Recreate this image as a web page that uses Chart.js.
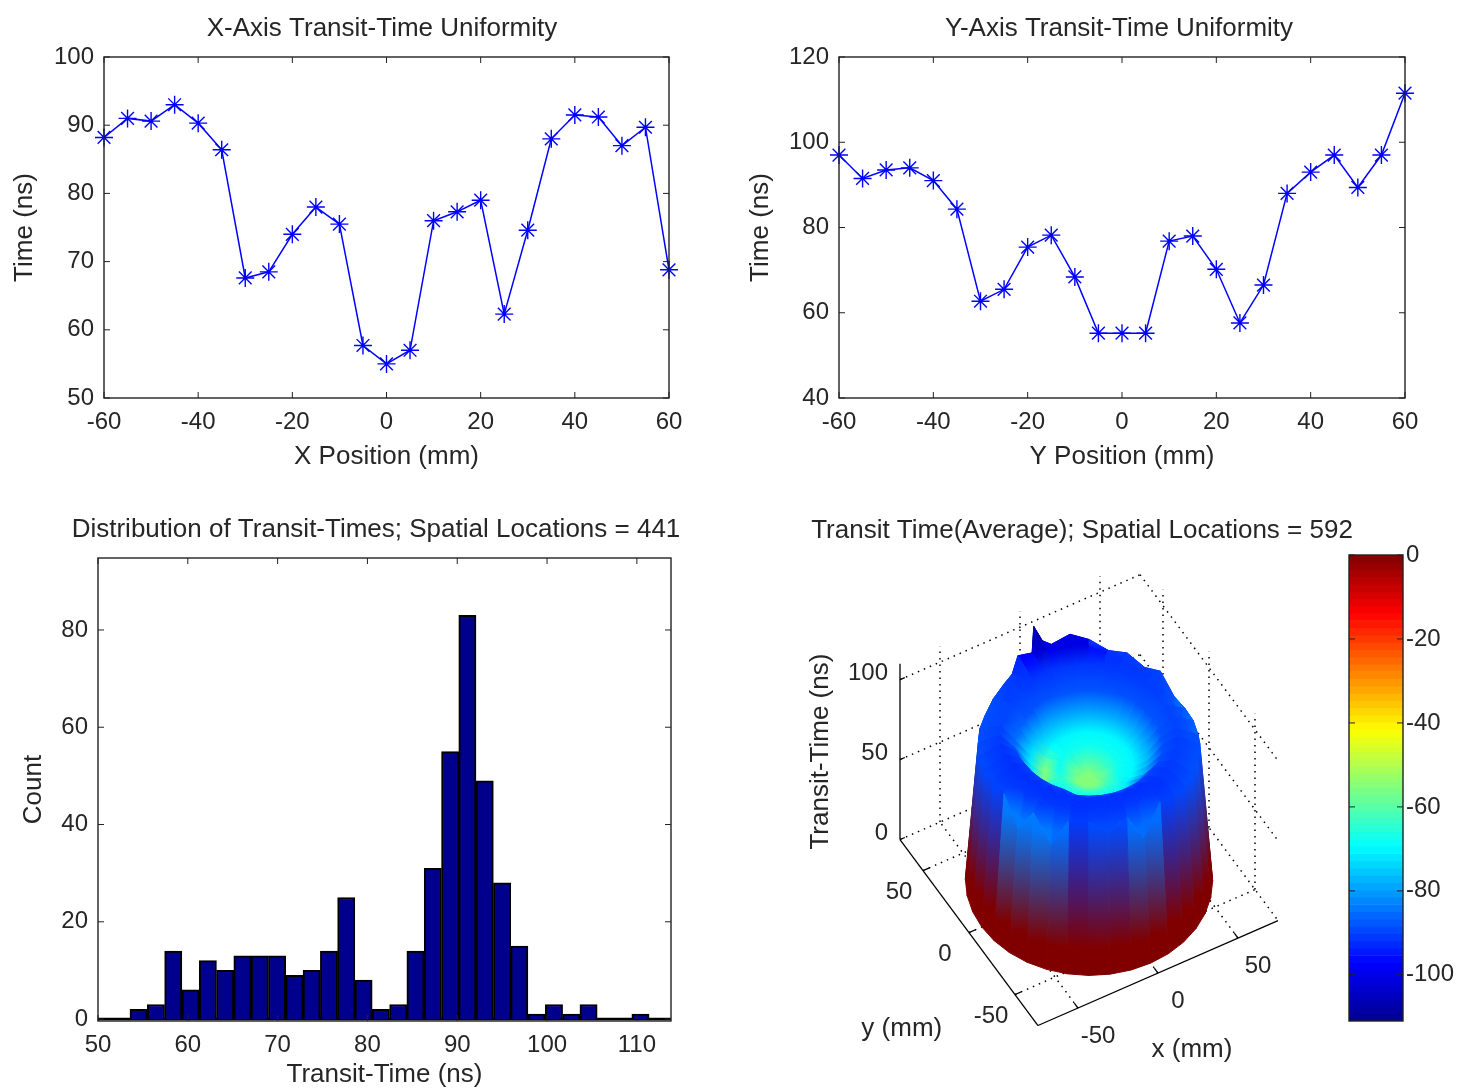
<!DOCTYPE html>
<html>
<head>
<meta charset="utf-8">
<title>Transit-Time Uniformity</title>
<script src="https://cdn.jsdelivr.net/npm/chart.js@4/dist/chart.umd.min.js"></script>
<style>
    html, body { margin: 0; background: #fff; overflow: hidden; width: 1457px; height: 1090px; }
    .panel { position: absolute; }
</style>
</head>
<body>
<div class="panel" style="left:0;top:0;width:764px;height:490px"><canvas id="xChart"></canvas></div>
<div class="panel" style="left:720px;top:0;width:798px;height:490px"><canvas id="yChart"></canvas></div>
<div class="panel" style="left:0;top:500px;width:752px;height:590px"><canvas id="histChart"></canvas></div>
<div class="panel" style="left:800px;top:500px;width:564px;height:590px"><canvas id="surfaceChart"></canvas></div>
<div class="panel" style="left:1320px;top:530px;width:137px;height:510px"><canvas id="barChart"></canvas></div>
<script>
// Valeurs
const positions = [-60, -55, -50, -45, -40, -35, -30, -25, -20, -15, -10, -5, 0, 5, 10, 15, 20, 25, 30, 35, 40, 45, 50, 55, 60];
const xTimes = [88.2, 91, 90.6, 93, 90.3, 86.4, 67.6, 68.5, 74, 78, 75.5, 57.7, 55, 57, 76, 77.3, 79, 62.3, 74.6, 88, 91.5, 91.2, 87, 89.7, 68.8];
const yTimes = [97, 91.5, 93.5, 94, 91, 84.3, 62.7, 65.5, 75.4, 78.2, 68.4, 55.2, 55.2, 55.2, 76.8, 78, 70.2, 57.6, 66.5, 88, 93, 97, 89.4, 97, 111.5];

const binCenters = [54.52, 56.45, 58.38, 60.3, 62.23, 64.16, 66.08, 68.01, 69.94, 71.86, 73.79, 75.72, 77.64, 79.57, 81.5, 83.43, 85.35, 87.28, 89.21, 91.13, 93.06, 94.99, 96.91, 98.84, 100.77, 102.7, 104.62, 106.55, 108.48, 110.4];
const binCounts = [2, 3, 14, 6, 12, 10, 13, 13, 13, 9, 10, 14, 25, 8, 2, 3, 14, 31, 55, 83, 49, 28, 15, 1, 3, 1, 3, 0, 0, 1];

// Surface: one row per spoke (degrees), one column per ring (mm), heights in ns
const spokeAngles = [0, 10, 20, 30, 40, 50, 60, 70, 80, 85, 90, 91, 100, 104, 110, 120, 130, 140, 150, 160, 170, 180, 190, 200, 210, 220, 230, 240, 250, 260, 270, 280, 290, 300, 310, 320, 330, 340, 350];
const ringRadii = [0, 8, 16, 24, 32, 40, 48, 54, 60, 67];
const surfaceHeights = [
    [66, 68, 70, 71, 76, 83, 88, 85, 81, 0],
    [66, 68, 70, 71, 76, 83, 88, 86, 81, 0],
    [66, 68, 70, 71, 76, 84, 91, 92, 90, 0],
    [66, 68, 70, 71, 76, 84, 90, 90, 87, 0],
    [66, 68, 70, 71, 76, 84, 92, 94, 92, 0],
    [66, 68, 70, 71, 76, 83, 92, 94, 91, 0],
    [66, 68, 70, 71, 76, 83, 92, 98, 97, 0],
    [66, 68, 70, 71, 76, 83, 92, 100, 101, 0],
    [66, 68, 70, 71, 76, 83, 92, 98, 97, 0],
    [66, 68, 70, 71, 76, 83, 93, 99, 101, 0],
    [66, 68, 70, 71, 76, 84, 94, 104, 112, 0],
    [66, 68, 70, 71, 76, 84, 92, 96, 96, 0],
    [66, 68, 70, 71, 75, 84, 92, 96, 99, 0],
    [66, 68, 70, 71, 75, 84, 91, 92, 90, 0],
    [66, 68, 70, 71, 75, 84, 90, 92, 88, 0],
    [66, 68, 70, 70, 74, 82, 88, 88, 86, 0],
    [66, 67, 70, 68, 73, 82, 87, 86, 84, 0],
    [66, 67, 70, 66, 72, 80, 88, 87, 85, 0],
    [66, 67, 70, 66, 72, 82, 90, 88, 85, 0],
    [66, 67, 70, 66, 72, 86, 92, 90, 86, 0],
    [66, 67, 69, 68, 73, 88, 93, 90, 87, 0],
    [66, 66, 69, 70, 74, 90, 94, 92, 88, 0],
    [66, 66, 69, 70, 76, 90, 94, 92, 88, 0],
    [66, 66, 69, 71, 78, 90, 94, 90, 72, 0],
    [66, 66, 69, 71, 78, 90, 94, 92, 88, 0],
    [66, 66, 69, 71, 78, 90, 94, 90, 72, 0],
    [66, 66, 69, 71, 78, 88, 94, 94, 90, 0],
    [66, 66, 69, 71, 78, 88, 94, 94, 90, 0],
    [66, 66, 69, 71, 78, 88, 94, 92, 82, 0],
    [66, 66, 69, 71, 78, 88, 94, 94, 90, 0],
    [66, 66, 69, 71, 78, 88, 94, 90, 72, 0],
    [66, 66, 69, 71, 78, 88, 94, 94, 90, 0],
    [66, 67, 69, 71, 78, 88, 92, 92, 88, 0],
    [66, 67, 69, 72, 78, 88, 92, 90, 86, 0],
    [66, 67, 70, 71, 76, 86, 90, 88, 85, 0],
    [66, 67, 70, 71, 76, 85, 90, 87, 84, 0],
    [66, 67, 70, 71, 75, 85, 90, 88, 86, 0],
    [66, 68, 70, 71, 75, 84, 88, 85, 82, 0],
    [66, 68, 70, 71, 76, 83, 88, 85, 82, 0]
];
// Height (ns) read against the colorbar value seen at that height
const heightSteps = [0, 66, 68, 70, 74, 83, 94, 100, 112];
const colorSteps = [0, -55, -62, -68, -76, -88, -92, -102, -111];

const surfaceTicks = [-50, 0, 50];
const heightTicks = [0, 50, 100];
const barLevels = 64;
const barTicks = [0, -20, -40, -60, -80, -100];

const fontFamily = '"Liberation Sans", Arial, sans-serif';
const fontSize = 24;
const labelSize = 26;
const textColor = '#262626';

// Colormap jet
const jetStops = [
    [0, [0, 0, 143]], [0.125, [0, 0, 255]], [0.375, [0, 255, 255]],
    [0.625, [255, 255, 0]], [0.875, [255, 0, 0]], [1, [128, 0, 0]]
];

const lerpTable = (value, xs, ys) => {
    for (let i = 1; i < xs.length; i++) {
        if (value <= xs[i]) {
            return ys[i - 1] + (ys[i] - ys[i - 1]) * (value - xs[i - 1]) / (xs[i] - xs[i - 1]);
        }
    }
    return ys[ys.length - 1];
};

const jet = (pos) => {
    const rgb = [0, 1, 2].map(c => Math.round(lerpTable(pos, jetStops.map(s => s[0]), jetStops.map(s => s[1][c]))));
    return `rgb(${rgb.join(',')})`;
};

const colorOfHeight = (z) => jet((lerpTable(z, heightSteps, colorSteps) + 111) / 111);

/**
 * Boite et graduations vers l'interieur, facon MATLAB
 */
const axisBox = {
    id: 'axisBox',
    afterDatasetsDraw(chart, args, opts) {
        const { ctx, chartArea: a, scales } = chart;
        const len = 6;
        ctx.save();
        ctx.strokeStyle = '#222';
        ctx.lineWidth = 1.4;
        ctx.strokeRect(a.left, a.top, a.width, a.height);
        ctx.lineWidth = 1;
        ctx.beginPath();
        if (opts.xTicks !== false) {
            scales.x.ticks.forEach(t => {
                const px = scales.x.getPixelForValue(t.value);
                ctx.moveTo(px, a.bottom); ctx.lineTo(px, a.bottom - len);
                ctx.moveTo(px, a.top); ctx.lineTo(px, a.top + len);
            });
        }
        scales.y.ticks.forEach(t => {
            const py = scales.y.getPixelForValue(t.value);
            ctx.moveTo(a.left, py); ctx.lineTo(a.left + len, py);
            ctx.moveTo(a.right, py); ctx.lineTo(a.right - len, py);
        });
        ctx.stroke();
        ctx.restore();
    }
};

const tickFont = { family: fontFamily, size: fontSize };
const labelFont = { family: fontFamily, size: labelSize, weight: 'normal' };

const axisTitle = (text, padding) => ({
    display: true, text, color: textColor, font: labelFont, padding
});

const chartTitle = (text, padding) => ({
    display: true, text, color: textColor, font: labelFont, padding
});

const linearAxis = (min, max, stepSize, extra) => ({
    type: 'linear',
    min, max,
    grid: { display: false, drawTicks: false },
    border: { display: false },
    ticks: { stepSize, color: textColor, font: tickFont, padding: 10, autoSkip: false, maxRotation: 0, includeBounds: false },
    ...extra
});

// Axe vide a droite: reserve la marge sans decaler le titre
const spacerAxis = (width) => ({
    type: 'linear',
    position: 'right',
    grid: { display: false, drawTicks: false },
    border: { display: false },
    ticks: { display: false },
    afterFit: s => { s.width = width; }
});

const baseOptions = {
    responsive: true,
    maintainAspectRatio: false,
    animation: false,
    events: []
};

/**
 * Courbe d'uniformite (axe X ou Y)
 */
const createUniformityChart = (canvasId, times, xLabel, yMin, yMax, yStep, title, geometry) => {
    return new Chart(document.getElementById(canvasId), {
        type: 'line',
        data: {
            datasets: [{
                data: positions.map((p, i) => ({ x: p, y: times[i] })),
                borderColor: '#0000ff',
                backgroundColor: '#0000ff',
                borderWidth: 1.5,
                tension: 0,
                pointStyle: 'star',
                pointRadius: 9,
                pointBorderColor: '#0000ff',
                pointBorderWidth: 1.4,
                clip: false
            }]
        },
        options: {
            ...baseOptions,
            layout: { autoPadding: false },
            scales: {
                x: linearAxis(-60, 60, 20, {
                    title: axisTitle(xLabel, { top: 0, bottom: 18 }),
                    afterFit: s => { s.height = 92; }
                }),
                y: linearAxis(yMin, yMax, yStep, {
                    title: axisTitle('Time (ns)', { top: geometry.titleLeft, bottom: 0 }),
                    afterFit: s => { s.width = geometry.left; }
                }),
                spacer: spacerAxis(geometry.right)
            },
            plugins: {
                legend: { display: false },
                tooltip: { enabled: false },
                title: chartTitle(title, { top: 13, bottom: 12.8 })
            }
        },
        plugins: [axisBox]
    });
};

/**
 * Histogramme des temps de transit
 */
const createHistChart = () => {
    return new Chart(document.getElementById('histChart'), {
        type: 'bar',
        data: {
            datasets: [{
                data: binCenters.map((c, i) => ({ x: c, y: binCounts[i] })),
                backgroundColor: '#00008c',
                borderColor: '#000',
                borderWidth: 2,
                barPercentage: 1,
                categoryPercentage: 1
            }, {
                type: 'line',
                data: [{ x: 50, y: 0 }, { x: 113.8, y: 0 }],
                borderColor: '#000',
                borderWidth: 2.5,
                pointRadius: 0
            }]
        },
        options: {
            ...baseOptions,
            layout: { autoPadding: false },
            scales: {
                x: linearAxis(50, 113.8, 10, {
                    offset: false,
                    title: axisTitle('Transit-Time (ns)', { top: 0, bottom: 0 }),
                    afterFit: s => { s.height = 69; }
                }),
                y: linearAxis(-0.4, 94.8, 20, {
                    title: axisTitle('Count', { top: 18, bottom: 0 }),
                    afterFit: s => { s.width = 98; }
                }),
                spacer: spacerAxis(81)
            },
            plugins: {
                legend: { display: false },
                tooltip: { enabled: false },
                title: chartTitle('Distribution of Transit-Times; Spatial Locations = 441', { top: 14, bottom: 12.8 })
            }
        },
        plugins: [axisBox]
    });
};

// Projection de la vue 3D vers les echelles du graphique
const project = (x, y, z) => ({
    x: 1089 + 1.6 * x - 0.92 * y,
    y: 880 - 0.7 * x - 1.24 * y - 1.6 * z
});

const spokePoint = (i, j) => {
    const angle = spokeAngles[i] * Math.PI / 180;
    const r = ringRadii[j];
    return { mx: r * Math.cos(angle), my: r * Math.sin(angle), z: surfaceHeights[i][j] };
};

const midPoint = (a, b) => ({ x: (a.x + b.x) / 2, y: (a.y + b.y) / 2 });

const surfaceCells = () => {
    const cells = [];
    spokeAngles.forEach((_, i) => {
        const next = (i + 1) % spokeAngles.length;
        for (let j = 0; j < ringRadii.length - 1; j++) {
            const corners = [spokePoint(i, j), spokePoint(next, j), spokePoint(next, j + 1), spokePoint(i, j + 1)];
            const depth = corners.reduce((sum, c) => sum + 0.49 * c.mx + 0.87 * c.my, 0) / 4;
            const pts = corners.map(c => project(c.mx, c.my, c.z));
            const innerColor = colorOfHeight((corners[0].z + corners[1].z) / 2);
            const outerHeight = (corners[2].z + corners[3].z) / 2;
            const outerColor = colorOfHeight(outerHeight);
            const paint = (context) => {
                const { scales, ctx } = context.chart;
                const from = midPoint(pts[0], pts[1]);
                const to = midPoint(pts[2], pts[3]);
                const ends = [
                    scales.x.getPixelForValue(from.x), scales.y.getPixelForValue(from.y),
                    scales.x.getPixelForValue(to.x), scales.y.getPixelForValue(to.y)
                ];
                // Les echelles ne sont pas encore pretes au premier passage
                if (!ends.every(Number.isFinite)) {
                    return innerColor;
                }
                const g = ctx.createLinearGradient(...ends);
                g.addColorStop(0, innerColor);
                // Le pied de la paroi reste rouge sombre sur une bande
                g.addColorStop(outerHeight === 0 ? 0.82 : 1, outerColor);
                return g;
            };
            cells.push({
                depth,
                dataset: {
                    data: [...pts, pts[0]],
                    showLine: true,
                    fill: 'shape',
                    tension: 0,
                    pointRadius: 0,
                    borderWidth: 1,
                    borderColor: paint,
                    backgroundColor: paint
                }
            });
        }
    });
    // Le premier dataset est dessine en dernier
    return cells.sort((a, b) => a.depth - b.depth).map(c => c.dataset);
};

const wireLine = (from, to, dotted = true) => ({
    data: [from, to],
    showLine: true,
    pointRadius: 0,
    borderColor: '#000',
    borderWidth: dotted ? 1.5 : 1.3,
    borderDash: dotted ? [1.5, 5] : []
});

const wireFrame = () => {
    const lines = [];
    surfaceTicks.forEach(t => {
        lines.push(wireLine(project(t, -75, 0), project(t, 75, 0)));
        lines.push(wireLine(project(-75, t, 0), project(75, t, 0)));
        lines.push(wireLine(project(t, 75, 0), project(t, 75, 110)));
        lines.push(wireLine(project(75, t, 0), project(75, t, 110)));
        lines.push(wireLine(project(t, -75, 0), project(t, -71, 0), false));
        lines.push(wireLine(project(-75, t, 0), project(-71, t, 0), false));
    });
    heightTicks.forEach(z => {
        lines.push(wireLine(project(-75, 75, z), project(75, 75, z)));
        lines.push(wireLine(project(75, 75, z), project(75, -75, z)));
        lines.push(wireLine(project(-75, 75, z), project(-72, 75, z), false));
    });
    lines.push(wireLine(project(-75, 75, 0), project(-75, 75, 110), false));
    lines.push(wireLine(project(-75, 75, 0), project(-75, -75, 0), false));
    lines.push(wireLine(project(-75, -75, 0), project(75, -75, 0), false));
    return lines;
};

/**
 * Libelles de la vue 3D, places avec la meme projection
 */
const surfaceLabels = {
    id: 'surfaceLabels',
    afterDatasetsDraw(chart) {
        const { ctx, scales } = chart;
        const put = (text, p, dx, dy, align = 'center', rotation = 0, size = fontSize) => {
            ctx.save();
            ctx.font = `${size}px ${fontFamily}`;
            ctx.translate(scales.x.getPixelForValue(p.x) + dx, scales.y.getPixelForValue(p.y) + dy);
            ctx.rotate(rotation);
            ctx.textAlign = align;
            ctx.textBaseline = 'middle';
            ctx.fillText(text, 0, 0);
            ctx.restore();
        };
        ctx.save();
        ctx.fillStyle = textColor;
        surfaceTicks.forEach(t => {
            put(String(t), project(-75, t, 0), -24, 22);
            put(String(t), project(t, -75, 0), 20, 28);
        });
        heightTicks.forEach(z => put(String(z), project(-75, 75, z), -12, -6, 'right'));
        put('y (mm)', project(-75, -40, 0), -104, 47, 'center', 0, labelSize);
        put('x (mm)', project(25, -75, 0), -6, 94, 'center', 0, labelSize);
        put('Transit-Time (ns)', project(-75, 75, 55), -79, 0, 'center', -Math.PI / 2, labelSize);
        ctx.restore();
    }
};

/**
 * Vue 3D de la surface moyenne
 */
const createSurfaceChart = () => {
    return new Chart(document.getElementById('surfaceChart'), {
        type: 'scatter',
        data: { datasets: [...surfaceCells(), ...wireFrame()] },
        options: {
            ...baseOptions,
            layout: { autoPadding: false },
            scales: {
                x: { type: 'linear', min: 800, max: 1364, display: false },
                y: { type: 'linear', min: 550, max: 1090, reverse: true, display: false }
            },
            plugins: {
                legend: { display: false },
                tooltip: { enabled: false },
                title: chartTitle('Transit Time(Average); Spatial Locations = 592', { top: 15, bottom: 4 })
            }
        },
        plugins: [surfaceLabels]
    });
};

/**
 * Barre de couleurs
 */
const createColorBar = () => {
    const levels = Array.from({ length: barLevels }, (_, i) => i);
    return new Chart(document.getElementById('barChart'), {
        type: 'bar',
        data: {
            labels: [''],
            datasets: levels.map(i => ({
                data: [-111 / barLevels],
                backgroundColor: jet(1 - (i + 0.5) / barLevels),
                borderWidth: 0,
                barPercentage: 1,
                categoryPercentage: 1
            }))
        },
        options: {
            ...baseOptions,
            layout: { padding: { left: 29, top: 25, bottom: 19 }, autoPadding: false },
            scales: {
                x: { stacked: true, display: false },
                y: {
                    stacked: true,
                    position: 'right',
                    min: -111,
                    max: 0,
                    grid: { display: false, drawTicks: false },
                    border: { display: false },
                    afterFit: s => { s.width = 54; },
                    afterBuildTicks: s => { s.ticks = barTicks.map(value => ({ value })); },
                    ticks: { color: textColor, font: tickFont, padding: 3, autoSkip: false }
                }
            },
            plugins: {
                legend: { display: false },
                tooltip: { enabled: false },
                axisBox: { xTicks: false }
            }
        },
        plugins: [axisBox]
    });
};

createUniformityChart('xChart', xTimes, 'X Position (mm)', 50, 100, 10, 'X-Axis Transit-Time Uniformity', { left: 104, right: 95, titleLeft: 9 });
createUniformityChart('yChart', yTimes, 'Y Position (mm)', 40, 120, 20, 'Y-Axis Transit-Time Uniformity', { left: 119, right: 113, titleLeft: 25 });
createHistChart();
createSurfaceChart();
createColorBar();
</script>
</body>
</html>
